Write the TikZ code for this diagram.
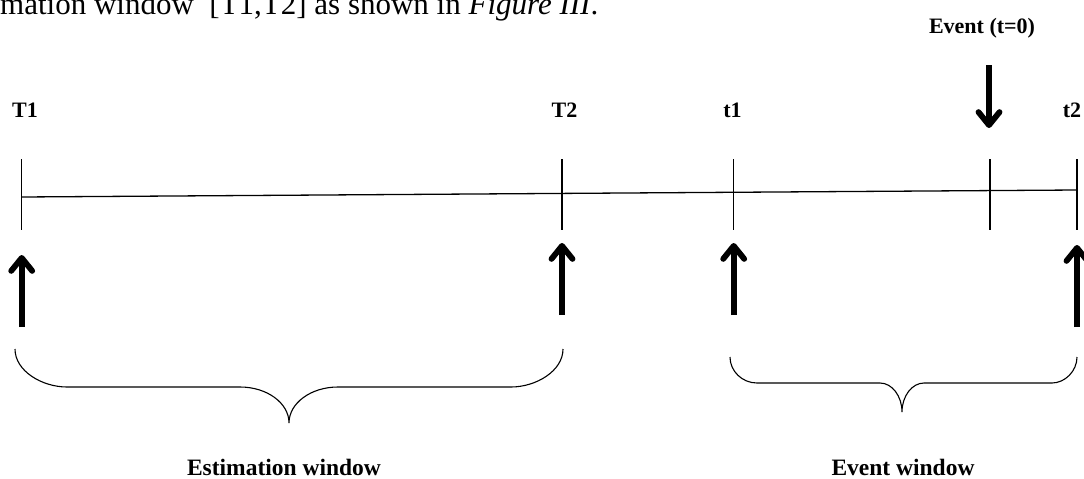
\documentclass[tikz,border=0pt]{standalone}
\usepackage{fontspec}
\setmainfont{Liberation Serif}
\usetikzlibrary{arrows.meta}
\begin{document}
\begin{tikzpicture}[x=1pt,y=-1pt,
  lbl/.style={font=\fontsize{22}{26}\selectfont\bfseries, anchor=base, inner sep=0pt},
  wlbl/.style={font=\fontsize{23.5}{28}\selectfont\bfseries, anchor=base, inner sep=0pt},
  tickline/.style={line width=1.1pt},
  axisline/.style={line width=1.3pt},
  bigarrow/.style={line width=5.8pt, -{Straight Barb[round,length=13pt,width=21pt]}},
  braceline/.style={line width=1.1pt}]
\useasboundingbox (0,0) rectangle (1084,479);
% cut-off line of running text
\node[anchor=base west, inner sep=0pt, font=\fontsize{31}{36}\selectfont] (intro) at (0,14)
  {mation window\ \ [T1,T2] as shown in \textit{Figure III}.};
% time axis
\coordinate (T1) at (21.7,197);
\coordinate (T2) at (562,193.4);
\coordinate (t1) at (733.7,192.3);
\coordinate (E0) at (990,190.6);
\coordinate (t2) at (1077,190);
\coordinate (ticktop) at (0,159);
\coordinate (tickbot) at (0,230);
\draw[axisline] (T1) -- (t2);
\foreach \c in {T1,T2,t1,E0,t2}
  \draw[tickline] (\c |- ticktop) -- (\c |- tickbot);
% up arrows
\coordinate (aT1) at (21.7,327);  \coordinate (hT1) at (21.7,255);
\coordinate (aT2) at (562,315);   \coordinate (hT2) at (562,243);
\coordinate (at1) at (733.7,315); \coordinate (ht1) at (733.7,243);
\coordinate (at2) at (1077,327);  \coordinate (ht2) at (1077,245);
\draw[bigarrow] (aT1) -- (hT1);
\draw[bigarrow] (aT2) -- (hT2);
\draw[bigarrow] (at1) -- (ht1);
\draw[bigarrow] (at2) -- (ht2);
% event arrow
\coordinate (aE) at (989,65); \coordinate (hE) at (989,128);
\draw[bigarrow] (aE) -- (hE);
% braces
\draw[braceline] (15,349) .. controls (15,371) and (42,387) .. (67,387) -- (240,387)
  .. controls (267,387) and (289,403) .. (289,423)
  .. controls (289,403) and (311,387) .. (338,387) -- (511,387)
  .. controls (536,387) and (563,371) .. (563,349);
\draw[braceline] (730,357) .. controls (730,371) and (742,383) .. (757,383) -- (880,383)
  .. controls (892,383) and (902,396) .. (902,412)
  .. controls (902,396) and (912,383) .. (924,383) -- (1052,383)
  .. controls (1065,383) and (1077,371) .. (1077,357);
% labels
\node[lbl] (lT1) at (25,117) {T1};
\node[lbl] (lT2) at (564.5,117) {T2};
\node[lbl] (lt1) at (732.5,117) {t1};
\node[lbl] (lt2) at (1072,117) {t2};
\node[lbl] (lev) at (982,33) {Event (t=0)};
\node[wlbl] (lest) at (284,475) {Estimation window};
\node[wlbl] (lew) at (903,475) {Event window};
\end{tikzpicture}
\end{document}
